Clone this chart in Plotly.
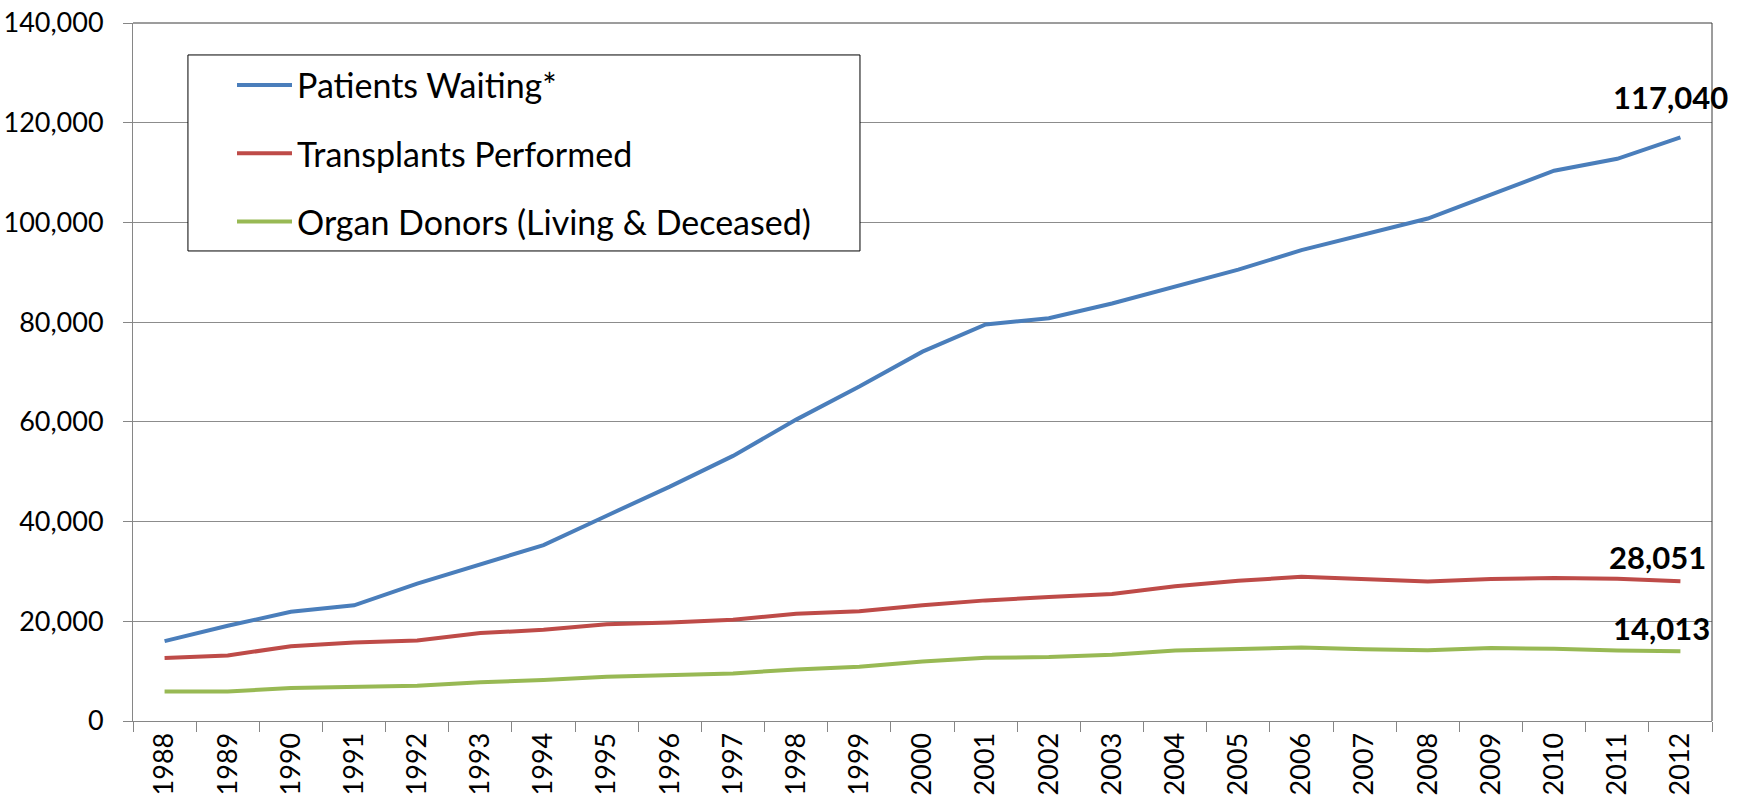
import plotly.graph_objects as go

years = [str(y) for y in range(1988, 2013)]
patients_waiting = [16026, 19095, 21914, 23198, 27563, 31355, 35271, 41179, 47000, 53167,
                    60448, 67079, 74080, 79523, 80790, 83731, 87146, 90526, 94441, 97670,
                    100775, 105567, 110375, 112766, 117040]
transplants = [12623, 13140, 15001, 15756, 16130, 17631, 18298, 19396, 19758, 20304,
               21513, 21990, 23233, 24193, 24851, 25465, 27033, 28108, 28931, 28353,
               27958, 28463, 28664, 28535, 28051]
donors = [5909, 5928, 6628, 6953, 7092, 7766, 8203, 8862, 9223, 9540,
          10353, 10868, 11933, 12696, 12821, 13285, 14152, 14495, 14756, 14400,
          14207, 14632, 14506, 14144, 14013]

series_names = ["Patients Waiting*", "Transplants Performed", "Organ Donors (Living & Deceased)"]
series_values = [patients_waiting, transplants, donors]
colors = ["#4A7EBB", "#BE4B48", "#98B954"]

FONT = "Lato"

fig = go.Figure()
for i, (name, vals, col) in enumerate(zip(series_names, series_values, colors)):
    fig.add_trace(go.Scatter(
        x=years, y=vals, name=name, mode="lines",
        line=dict(color=col, width=4), legendgroup=f"g{i}",
    ))

# end-point labels (placed on the last category by index)
last_idx = len(years) - 1
label_shifts = [(-10, 40), (-23, 24), (-19, 23)]
for vals, (dx, dy) in zip(series_values, label_shifts):
    fig.add_annotation(
        x=last_idx, y=vals[-1], text=f"<b>{vals[-1]:,}</b>", showarrow=False,
        xanchor="center", yanchor="middle", xshift=dx, yshift=dy,
        font=dict(family=FONT, size=31, color="black"),
    )

# plot-area border (top and right)
fig.add_shape(type="line", xref="paper", yref="paper", x0=0, x1=1, y0=1, y1=1,
              line=dict(color="#3a3a3a", width=1))
fig.add_shape(type="line", xref="paper", yref="paper", x0=1, x1=1, y0=0, y1=1,
              line=dict(color="#3a3a3a", width=1))
# legend frame (white box with black border behind the legend entries)
fig.add_shape(type="rect", xref="paper", yref="paper", x0=0.0348, x1=0.4604,
              y0=0.6734, y1=0.9542, layer="above",
              fillcolor="white", line=dict(color="black", width=1))

fig.update_layout(
    width=1738, height=801,
    margin=dict(l=133, r=26, t=23, b=80, autoexpand=False),
    paper_bgcolor="white", plot_bgcolor="white",
    font=dict(family=FONT, size=27, color="black"),
    showlegend=True,
    legend=dict(
        x=0.0627, y=0.952, xanchor="left", yanchor="top",
        bgcolor="rgba(0,0,0,0)", borderwidth=0,
        font=dict(family=FONT, size=34, color="black"),
        traceorder="grouped", tracegroupgap=21,
        itemwidth=55,
    ),
    xaxis=dict(
        type="category", tickangle=-90, automargin=False,
        range=[-0.5, len(years) - 0.5], autorange=False,
        showline=True, linecolor="#868686", linewidth=1,
        ticks="outside", ticklen=10, tickcolor="#868686", tickson="boundaries",
        showgrid=False, zeroline=False,
        tickfont=dict(family=FONT, size=27, color="black"),
    ),
    yaxis=dict(
        range=[0, 140000], dtick=20000, tickformat=",", automargin=False,
        showline=True, linecolor="#868686", linewidth=1,
        ticks="outside", ticklen=9, tickcolor="#868686",
        showgrid=True, gridcolor="#8c8c8c", gridwidth=1,
        zeroline=False,
        tickfont=dict(family=FONT, size=27, color="black"),
        ticklabelstandoff=14,
    ),
)

fig.write_html("out.html", config={"displayModeBar": False},
               post_script="document.body.style.margin='0';")
